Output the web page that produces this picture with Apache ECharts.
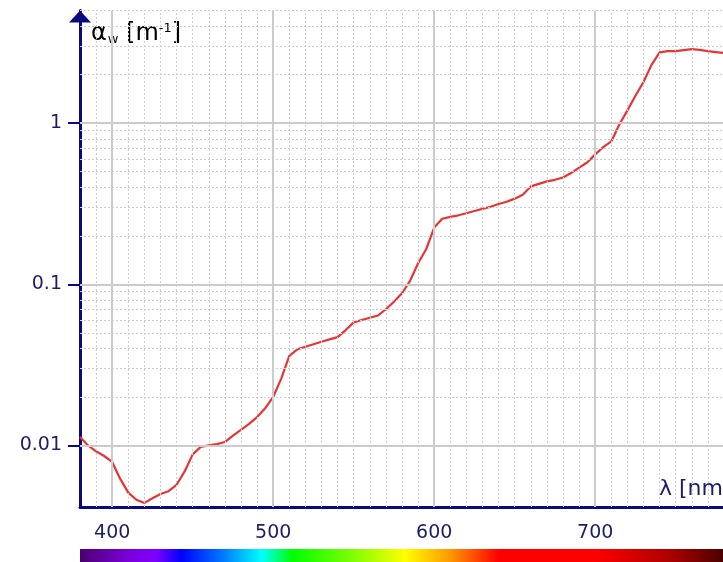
<!DOCTYPE html>
<html>
<head>
<meta charset="utf-8">
<title>absorption of water</title>
<script src="https://cdn.jsdelivr.net/npm/echarts@6/dist/echarts.min.js"></script>
<style>
    html, body {margin: 0; padding: 0; background: #fff;}
    #main {width: 723px; height: 562px;}
</style>
</head>
<body>
<div id="main"></div>
<script>
    // wavelength [nm] and absorption coefficient [1/m]
    var wavelengths = [380, 385, 390, 395, 400, 405, 410, 415, 420, 425,
        430, 435, 440, 445, 450, 455, 460, 465, 470, 475,
        480, 485, 490, 495, 500, 505, 510, 515, 520, 525,
        530, 535, 540, 545, 550, 555, 560, 565, 570, 575,
        580, 585, 590, 595, 600, 605, 610, 615, 620, 625,
        630, 635, 640, 645, 650, 655, 660, 665, 670, 675,
        680, 685, 690, 695, 700, 705, 710, 715, 720, 725,
        730, 735, 740, 745, 750, 755, 760, 765, 770, 775, 780];
    var absorption = [0.0113, 0.0100, 0.0092, 0.0086, 0.0079, 0.0062, 0.0051, 0.0046, 0.0044, 0.0047,
        0.0050, 0.0052, 0.0057, 0.0069, 0.0088, 0.0098, 0.0100, 0.0102, 0.0105, 0.0115,
        0.0125, 0.0136, 0.0150, 0.0170, 0.0200, 0.0260, 0.0360, 0.0395, 0.0410, 0.0425,
        0.0440, 0.0455, 0.0470, 0.0520, 0.0580, 0.0600, 0.0620, 0.0640, 0.0700, 0.0780,
        0.0880, 0.1050, 0.1350, 0.1650, 0.2250, 0.2550, 0.2620, 0.2680, 0.2760, 0.2850,
        0.2940, 0.3030, 0.3150, 0.3250, 0.3400, 0.3600, 0.4050, 0.4200, 0.4350, 0.4450,
        0.4600, 0.4900, 0.5300, 0.5700, 0.6400, 0.7100, 0.7700, 0.9800, 1.2000, 1.4800,
        1.8000, 2.3000, 2.7500, 2.8000, 2.8000, 2.8400, 2.8800, 2.8500, 2.8000, 2.7600, 2.7200];

    var xLabels = [400, 500, 600, 700];
    var yLabels = [0.01, 0.1, 1];
    var xMinor = [390, 410, 420, 430, 440, 450, 460, 470, 480, 490,
        510, 520, 530, 540, 550, 560, 570, 580, 590,
        610, 620, 630, 640, 650, 660, 670, 680, 690,
        710, 720, 730, 740, 750, 760, 770, 780];
    var yMinor = [0.005, 0.006, 0.007, 0.008, 0.009,
        0.02, 0.03, 0.04, 0.05, 0.06, 0.07, 0.08, 0.09,
        0.2, 0.3, 0.4, 0.5, 0.6, 0.7, 0.8, 0.9,
        2, 3, 4, 5];

    // colour strip under the axis
    var spectrumNm = [380, 410, 427, 443, 470, 493, 512, 550, 582, 610, 640, 700, 745, 780];
    var spectrumColor = ['#4b0070', '#7a00d8', '#8000ff', '#0000ff', '#0080ff', '#00ffff', '#00ff00',
        '#80ff00', '#ffff00', '#ff9900', '#ff0000', '#ff0000', '#b00000', '#4a0000'];

    var navy = '#0a0a80';
    var textColor = '#1d1d66';
    var font = 'DejaVu Sans';

    var chart = echarts.init(document.getElementById('main'), null, {renderer: 'canvas'});

    var curve = [];
    for (var i = 0; i < wavelengths.length; i++) {
        curve.push([wavelengths[i], absorption[i]]);
    }
    var minorLines = [];
    for (var i = 0; i < xMinor.length; i++) minorLines.push({xAxis: xMinor[i]});
    for (var i = 0; i < yMinor.length; i++) minorLines.push({yAxis: yMinor[i]});
    var majorLines = [];
    for (var i = 0; i < xLabels.length; i++) majorLines.push({xAxis: xLabels[i]});
    for (var i = 0; i < yLabels.length; i++) majorLines.push({yAxis: yLabels[i]});

    var yMin = 0.00415, yMax = 5;

    var option = {
        animation: false,
        backgroundColor: '#fff',
        grid: {left: 80, top: 10.5, width: 644, height: 496.5, outerBoundsMode: 'none', containLabel: false},
        xAxis: {
            type: 'value',
            min: 380,
            max: 780,
            axisLine: {show: true, onZero: false, lineStyle: {color: navy, width: 3}},
            axisTick: {show: false},
            splitLine: {show: false},
            axisLabel: {
                customValues: xLabels,
                margin: 17,
                color: textColor,
                fontSize: 19,
                fontFamily: font
            }
        },
        yAxis: [
            {
                type: 'log',
                logBase: 10,
                min: yMin,
                max: yMax,
                axisLine: {
                    show: true,
                    lineStyle: {color: navy, width: 3},
                    symbol: ['none', 'triangle'],
                    symbolSize: [22, 12],
                    symbolOffset: [0, -6]
                },
                axisTick: {show: true, inside: false, length: 12, customValues: yLabels, lineStyle: {color: navy, width: 2}},
                axisLabel: {
                    customValues: yLabels,
                    margin: 18,
                    color: textColor,
                    fontSize: 19,
                    fontFamily: font,
                    formatter: function (v) { return +(+v).toPrecision(3) + ''; }
                },
                splitLine: {show: false}
            },
            {
                type: 'log',
                logBase: 10,
                min: yMin,
                max: yMax,
                position: 'left',
                axisLine: {show: false},
                axisTick: {show: true, inside: true, length: 13, customValues: yLabels, lineStyle: {color: navy, width: 2}},
                axisLabel: {show: false},
                splitLine: {show: false}
            }
        ],
        series: [
            {
                type: 'line',
                data: [],
                silent: true,
                z: 1,
                markLine: {
                    silent: true,
                    symbol: ['none', 'none'],
                    label: {show: false},
                    lineStyle: {color: '#cdcdcd', type: [2, 2], width: 1},
                    data: minorLines
                }
            },
            {
                type: 'line',
                data: [],
                silent: true,
                z: 1,
                markLine: {
                    silent: true,
                    symbol: ['none', 'none'],
                    label: {show: false},
                    lineStyle: {color: '#cbcbcb', type: 'solid', width: 2},
                    data: majorLines
                }
            },
            {
                name: 'absorption',
                type: 'line',
                data: curve,
                showSymbol: false,
                symbol: 'none',
                z: 3,
                lineStyle: {color: '#e63535', width: 2.2}
            }
        ]
    };
    chart.setOption(option);

    // strip and axis titles
    var x0 = chart.convertToPixel({xAxisIndex: 0}, spectrumNm[0]);
    var x1 = chart.convertToPixel({xAxisIndex: 0}, spectrumNm[spectrumNm.length - 1]);
    var stops = [];
    for (var i = 0; i < spectrumNm.length; i++) {
        stops.push({offset: (spectrumNm[i] - spectrumNm[0]) / (spectrumNm[spectrumNm.length - 1] - spectrumNm[0]), color: spectrumColor[i]});
    }
    chart.setOption({
        graphic: [
            {
                type: 'rect',
                shape: {x: x0, y: 549, width: x1 - x0, height: 14},
                style: {fill: new echarts.graphic.LinearGradient(0, 0, 1, 0, stops)},
                silent: true
            },
            {
                type: 'text',
                x: 91,
                y: 34,
                style: {
                    text: '{a|α}{s|w}{a| [m}{p|-1}{a|]}',
                    textVerticalAlign: 'middle',
                    rich: {
                        a: {fontSize: 24, fontFamily: font, color: textColor, lineHeight: 30, verticalAlign: 'middle'},
                        s: {fontSize: 13, fontFamily: font, color: textColor, lineHeight: 30, verticalAlign: 'bottom', padding: [0, 0, 3, 1]},
                        p: {fontSize: 13, fontFamily: font, color: textColor, lineHeight: 30, verticalAlign: 'top', padding: [3, 0, 0, 0]}
                    }
                },
                silent: true
            },
            {
                type: 'text',
                x: 659,
                y: 489,
                style: {
                    text: 'λ [nm]',
                    font: '22px "DejaVu Sans"',
                    fill: textColor,
                    textVerticalAlign: 'middle'
                },
                silent: true
            }
        ]
    });
</script>
</body>
</html>
